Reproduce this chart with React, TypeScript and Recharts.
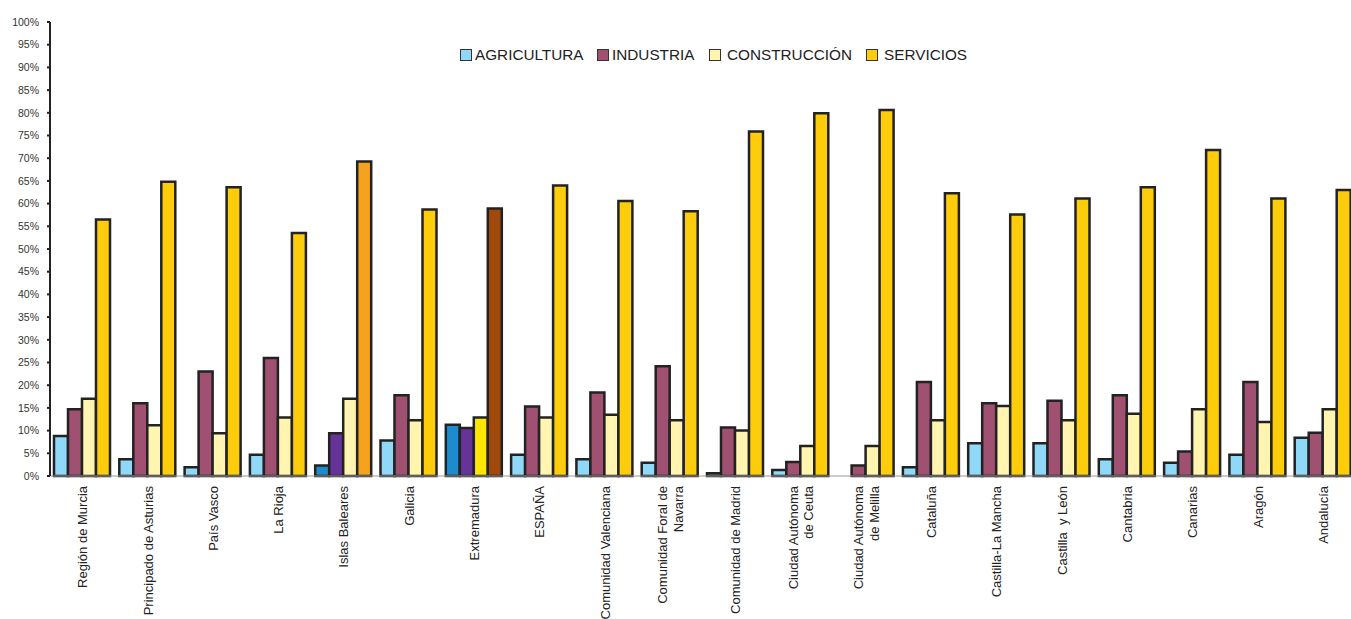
import * as React from "react";
import { Bar, BarChart, Cell, XAxis, YAxis } from "recharts";

const REGIONES = [
  "Región de Murcia",
  "Principado de Asturias",
  "País Vasco",
  "La Rioja",
  "Islas Baleares",
  "Galicia",
  "Extremadura",
  "ESPAÑA",
  "Comunidad Valenciana",
  "Comunidad Foral de|Navarra",
  "Comunidad de Madrid",
  "Ciudad Autónoma|de Ceuta",
  "Ciudad Autónoma|de Melilla",
  "Cataluña",
  "Castilla-La Mancha",
  "Castilla  y León",
  "Cantabria",
  "Canarias",
  "Aragón",
  "Andalucía",
];

const AGRICULTURA = [8.8, 3.7, 1.9, 4.7, 2.3, 7.8, 11.3, 4.7, 3.7, 2.9, 0.6, 1.3, 0, 1.9, 7.2, 7.2, 3.7, 2.9, 4.7, 8.4];
const INDUSTRIA = [14.7, 16.0, 23.0, 26.0, 9.4, 17.8, 10.6, 15.3, 18.4, 24.2, 10.7, 3.1, 2.3, 20.7, 16.0, 16.6, 17.8, 5.4, 20.7, 9.5];
const CONSTRUCCION = [17.0, 11.2, 9.4, 12.9, 17.0, 12.3, 12.9, 12.9, 13.5, 12.3, 10.0, 6.6, 6.6, 12.3, 15.4, 12.3, 13.7, 14.7, 11.9, 14.7];
const SERVICIOS = [56.5, 64.8, 63.6, 53.5, 69.3, 58.7, 58.9, 64.0, 60.6, 58.3, 75.9, 79.9, 80.6, 62.3, 57.6, 61.1, 63.6, 71.8, 61.1, 63.0];

const Y_TICKS = [0, 5, 10, 15, 20, 25, 30, 35, 40, 45, 50, 55, 60, 65, 70, 75, 80, 85, 90, 95, 100];

const SERIES = [
  { key: "agricultura", name: "AGRICULTURA", color: "#8fd8f7" },
  { key: "industria", name: "INDUSTRIA", color: "#a05070" },
  { key: "construccion", name: "CONSTRUCCIÓN", color: "#fff5b0" },
  { key: "servicios", name: "SERVICIOS", color: "#fdcc0a" },
];

// colores especiales de Islas Baleares y Extremadura
const OVERRIDES: Record<string, Record<string, string>> = {
  "Islas Baleares": { agricultura: "#1e8bcd", industria: "#663399", servicios: "#f5a31e" },
  Extremadura: {
    agricultura: "#1e8bcd",
    industria: "#663399",
    construccion: "#ffe600",
    servicios: "#a0490b",
  },
};

const rows = REGIONES.map((region, i) => ({
  region,
  agricultura: AGRICULTURA[i],
  industria: INDUSTRIA[i],
  construccion: CONSTRUCCION[i],
  servicios: SERVICIOS[i],
}));

const FONT = "'Liberation Sans', Arial, sans-serif";

// posición horizontal de cada cuadrito de la leyenda
const LEGEND_X = [460, 597, 709, 866];

function RegionTick(props: any) {
  const { x, y, payload } = props;
  const lines = String(payload.value).split("|");
  const first = lines.length === 1 ? 0.35 : -0.25;
  return (
    <g transform={`translate(${x},${y})`}>
      <text
        transform="rotate(-90)"
        textAnchor="end"
        fontSize={13}
        fontFamily={FONT}
        fill="#222"
        style={{ whiteSpace: "pre" }}
      >
        {lines.map((l, i) => (
          <tspan key={i} x={0} dy={i === 0 ? `${first}em` : "1.2em"}>
            {l}
          </tspan>
        ))}
      </text>
    </g>
  );
}

function Leyenda() {
  return (
    <>
      {SERIES.map((s, i) => (
        <div
          key={s.key}
          style={{
            position: "absolute",
            left: LEGEND_X[i],
            top: 45,
            height: 20,
            display: "flex",
            alignItems: "center",
            fontFamily: FONT,
            fontSize: 15.3,
            color: "#222",
            whiteSpace: "nowrap",
          }}
        >
          <span
            style={{
              width: 10,
              height: 10,
              background: s.color,
              border: "1.5px solid #333",
              marginRight: i < 2 ? 3 : 6,
              display: "inline-block",
            }}
          />
          {s.name}
        </div>
      ))}
    </>
  );
}

export default function App() {
  return (
    <div
      style={{
        position: "absolute",
        left: 0,
        top: 0,
        width: 1351,
        height: 619,
        overflow: "hidden",
        background: "#fff",
      }}
    >
      <BarChart
        width={1356}
        height={619}
        data={rows}
        margin={{ top: 22, right: 0, left: 0, bottom: 0 }}
        barGap={0}
        barCategoryGap={4}
      >
        <XAxis
          dataKey="region"
          interval={0}
          height={143}
          tickLine={false}
          axisLine={{ stroke: "#999", strokeWidth: 1 }}
          tick={<RegionTick />}
          tickMargin={4}
        />
        <YAxis
          width={50}
          domain={[0, 100]}
          ticks={Y_TICKS}
          interval={0}
          tickFormatter={(v) => `${v}%`}
          axisLine={{ stroke: "#222", strokeWidth: 2 }}
          tickLine={{ stroke: "#222", strokeWidth: 2 }}
          tickSize={3}
          tickMargin={8}
          tick={{ fontSize: 10.5, fontFamily: FONT, fill: "#333" }}
        />
        {SERIES.map((s) => (
          <Bar
            key={s.key}
            dataKey={s.key}
            name={s.name}
            fill={s.color}
            stroke="#222"
            strokeWidth={2.5}
            isAnimationActive={false}
          >
            {rows.map((r, i) => (
              <Cell key={i} fill={OVERRIDES[r.region]?.[s.key] ?? s.color} />
            ))}
          </Bar>
        ))}
      </BarChart>
      <Leyenda />
    </div>
  );
}
